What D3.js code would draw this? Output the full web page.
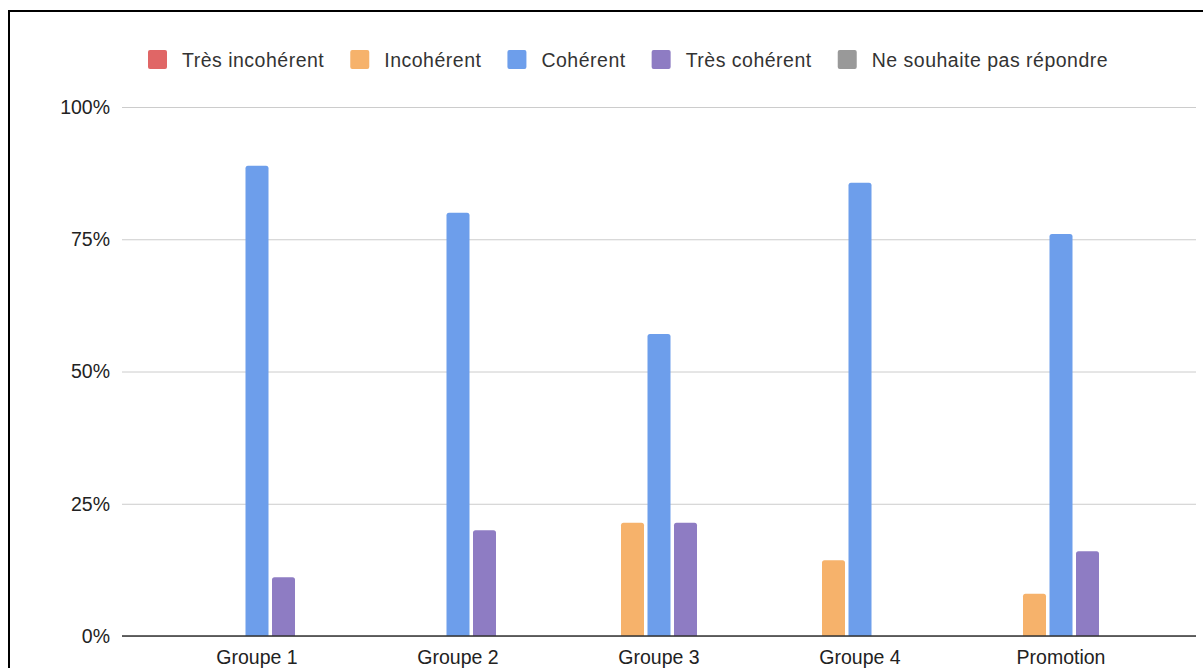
<!DOCTYPE html>
<html>
<head>
<meta charset="utf-8">
<script src="https://cdn.jsdelivr.net/npm/d3@7"></script>
<style>
  html, body { margin: 0; padding: 0; background: #fff; overflow: hidden; }
  svg { display: block; font-family: "Liberation Sans", Arial, sans-serif; }
</style>
</head>
<body>
<svg id="chart" width="1203" height="668"></svg>
<script>
// Data (percent of answers)
const groups = ['Groupe 1', 'Groupe 2', 'Groupe 3', 'Groupe 4', 'Promotion'];
const seriesNames = ['Très incohérent', 'Incohérent', 'Cohérent', 'Très cohérent', 'Ne souhaite pas répondre'];
const seriesColors = ['#e06666', '#f6b26b', '#6d9eeb', '#8e7cc3', '#999999'];
const tresIncoherent = [0, 0, 0, 0, 0];
const incoherent = [0, 0, 21.4, 14.3, 8];
const coherent = [88.9, 80, 57.1, 85.7, 76];
const tresCoherent = [11.1, 20, 21.4, 0, 16];
const neSouhaitePas = [0, 0, 0, 0, 0];
const yTicks = [0, 25, 50, 75, 100];

const seriesValues = [tresIncoherent, incoherent, coherent, tresCoherent, neSouhaitePas];

const svg = d3.select('#chart');
const plot = { left: 122, right: 1196, top: 107, bottom: 636 };

// outer frame (only top and left edges fall inside the window)
svg.append('rect')
  .attr('x', 9).attr('y', 11).attr('width', 1300).attr('height', 800)
  .attr('fill', 'none').attr('stroke', '#000').attr('stroke-width', 2);

const y = d3.scaleLinear().domain([0, 100]).range([plot.bottom, plot.top]);
const x0 = d3.scaleBand().domain(groups).range([plot.left + 34.5, plot.right - 34.5]);
const slot = 26.5;
const x1 = d3.scaleBand().domain(seriesNames).range([-slot * 2.5, slot * 2.5]);
const barGap = 3.5;

// gridlines + y labels
const yAxis = d3.axisLeft(y).tickValues(yTicks).tickFormat(d => d + '%')
  .tickSize(-(plot.right - plot.left)).tickPadding(12);
const yg = svg.append('g').attr('transform', `translate(${plot.left},0)`).call(yAxis);
yg.select('.domain').remove();
yg.selectAll('.tick line').attr('stroke', '#cccccc').attr('stroke-width', 1);
yg.selectAll('.tick text').attr('fill', '#222').attr('font-size', '19.5px');

// bars
function topRounded(x, yTop, w, h, r) {
  r = Math.min(r, h, w / 2);
  return `M${x},${yTop + h}V${yTop + r}Q${x},${yTop} ${x + r},${yTop}H${x + w - r}Q${x + w},${yTop} ${x + w},${yTop + r}V${yTop + h}Z`;
}

groups.forEach((grp, gi) => {
  const cx = x0(grp) + x0.bandwidth() / 2;
  seriesNames.forEach((s, si) => {
    const v = seriesValues[si][gi];
    if (!v) return;
    const bx = cx + x1(s) + barGap / 2;
    const bw = x1.bandwidth() - barGap;
    svg.append('path')
      .attr('d', topRounded(bx, y(v), bw, y(0) - y(v), 2.5))
      .attr('fill', seriesColors[si]);
  });
});

// baseline
svg.append('line')
  .attr('x1', plot.left).attr('x2', plot.right)
  .attr('y1', y(0)).attr('y2', y(0))
  .attr('stroke', '#333').attr('stroke-width', 1.5);

// x labels
const xAxis = d3.axisBottom(x0).tickSize(0).tickPadding(0);
const xg = svg.append('g').attr('transform', `translate(0,${plot.bottom})`).call(xAxis);
xg.select('.domain').remove();
xg.selectAll('.tick text').attr('fill', '#222').attr('font-size', '19.5px').attr('dy', null).attr('y', 28);

// legend
const legend = svg.append('g').attr('transform', 'translate(148,50)');
let lx = 0;
seriesNames.forEach((s, i) => {
  const item = legend.append('g').attr('transform', `translate(${lx},0)`);
  item.append('rect').attr('width', 19).attr('height', 19).attr('rx', 2).attr('fill', seriesColors[i]);
  const t = item.append('text').attr('x', 34).attr('y', 16.5)
    .attr('fill', '#333').attr('font-size', '19.5px').attr('letter-spacing', '0.5px').text(s);
  lx += 34 + t.node().getComputedTextLength() + 26;
});
</script>
</body>
</html>
